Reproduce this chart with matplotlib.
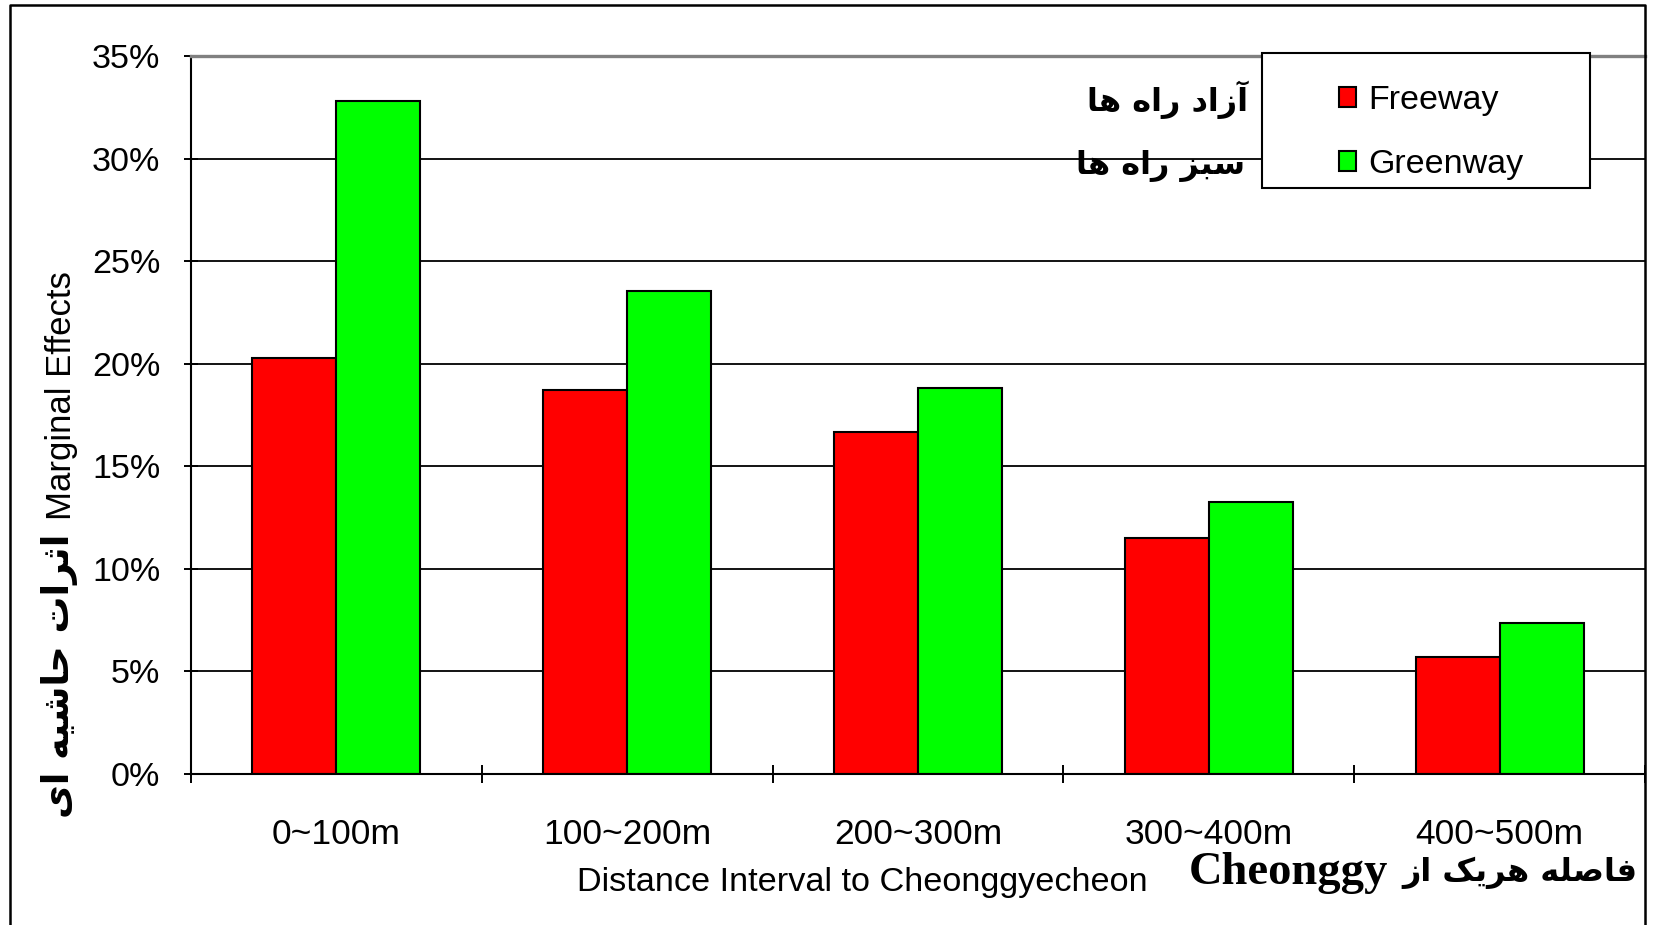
import matplotlib
matplotlib.use("Agg")
import matplotlib.pyplot as plt
from matplotlib.lines import Line2D
from matplotlib.patches import Rectangle
import numpy as np

# ---------------- data ----------------
categories = ["0~100m", "100~200m", "200~300m", "300~400m", "400~500m"]
freeway = [20.3, 18.7, 16.65, 11.5, 5.7]
greenway = [32.8, 23.55, 18.8, 13.25, 7.35]
series_names = ["Freeway", "Greenway"]
yticks = [0, 5, 10, 15, 20, 25, 30, 35]
ytick_labels = ["0%", "5%", "10%", "15%", "20%", "25%", "30%", "35%"]
xlabel = "Distance Interval to Cheonggyecheon"
ylabel = "Marginal Effects"
fa_ylabel = "اثرات حاشیه ای"
fa_legend = ["آزاد راه ها", "سبز راه ها"]
fa_xlabel = "فاصله هریک از"
fa_xlabel_latin = "Cheonggy"

# ---------------- simple Persian shaping ----------------
JOIN_R = set("اآدذرزژو")
FORMS = {
    "ا": (0xFE8D, 0xFE8E, None, None),
    "آ": (0xFE81, 0xFE82, None, None),
    "د": (0xFEA9, 0xFEAA, None, None),
    "ر": (0xFEAD, 0xFEAE, None, None),
    "ز": (0xFEAF, 0xFEB0, None, None),
    "ب": (0xFE8F, 0xFE90, 0xFE91, 0xFE92),
    "ت": (0xFE95, 0xFE96, 0xFE97, 0xFE98),
    "ث": (0xFE99, 0xFE9A, 0xFE9B, 0xFE9C),
    "ح": (0xFEA1, 0xFEA2, 0xFEA3, 0xFEA4),
    "س": (0xFEB1, 0xFEB2, 0xFEB3, 0xFEB4),
    "ش": (0xFEB5, 0xFEB6, 0xFEB7, 0xFEB8),
    "ص": (0xFEB9, 0xFEBA, 0xFEBB, 0xFEBC),
    "ف": (0xFED1, 0xFED2, 0xFED3, 0xFED4),
    "ل": (0xFEDD, 0xFEDE, 0xFEDF, 0xFEE0),
    "ه": (0xFEE9, 0xFEEA, 0xFEEB, 0xFEEC),
    "ی": (0xFBFC, 0xFBFD, 0xFBFE, 0xFBFF),
    "ک": (0xFB8E, 0xFB8F, 0xFB90, 0xFB91),
}
JOIN_D = set(c for c, f in FORMS.items() if f[2] is not None)


def shape(s):
    out = []
    for i, c in enumerate(s):
        if c not in FORMS:
            out.append(c)
            continue
        prev = s[i - 1] if i > 0 else ""
        nxt = s[i + 1] if i + 1 < len(s) else ""
        jp = prev in JOIN_D
        jn = (c in JOIN_D) and (nxt in JOIN_D or nxt in JOIN_R)
        iso, fin, ini, med = FORMS[c]
        if jp and jn:
            cp = med
        elif jp:
            cp = fin
        elif jn:
            cp = ini
        else:
            cp = iso
        out.append(chr(cp))
    return "".join(reversed(out))


# ---------------- figure ----------------
W, H, DPI = 1654, 925, 100
fig = plt.figure(figsize=(W / DPI, H / DPI), dpi=DPI)
plt.rcParams["font.family"] = ["Liberation Sans", "DejaVu Sans"]

ax = fig.add_axes([191 / W, 1 - 774 / H, (1645 - 191) / W, (774 - 56) / H])

x = np.arange(len(categories))
bw = 0.289
b1 = ax.bar(x - bw / 2, freeway, bw, color="#FF0000", edgecolor="black", linewidth=1.5,
            label=series_names[0], zorder=3)
b2 = ax.bar(x + bw / 2, greenway, bw, color="#00FF00", edgecolor="black", linewidth=1.5,
            label=series_names[1], zorder=3)

ax.set_xlim(-0.5, len(categories) - 0.5)
ax.set_ylim(0, 35)
ax.set_yticks(yticks)
ax.set_yticklabels(ytick_labels)
ax.set_xticks(x)
ax.set_xticklabels(categories)
ax.set_xticks(np.arange(-0.5, len(categories), 1.0), minor=True)

ax.tick_params(axis="y", direction="inout", length=10, width=1.4, pad=17,
               labelsize=24.5, colors="black")
ax.tick_params(axis="x", which="major", length=0, pad=32, labelsize=25.5)
ax.tick_params(axis="x", which="minor", direction="inout", length=13, width=1.4)

for v in yticks[1:-1]:
    ax.axhline(v, color="black", linewidth=1.3, zorder=1)

ax.spines["top"].set_color("#808080")
ax.spines["top"].set_linewidth(2.4)
ax.spines["right"].set_visible(False)
ax.spines["left"].set_linewidth(1.5)
ax.spines["bottom"].set_linewidth(1.5)
ax.spines["bottom"].set_zorder(4)

# axis titles
fig.text(862 / W, 1 - 882 / H, xlabel, ha="center", va="center", fontsize=24.7)
fig.text(62 / W, 1 - 396 / H, ylabel, ha="center", va="center", rotation=90, fontsize=25)

# Persian annotations
fig.text(59 / W, 1 - 676 / H, shape(fa_ylabel), ha="center", va="center", rotation=90,
         fontsize=26.5, fontweight="bold", family=["DejaVu Sans"])
fig.text(1248 / W, 1 - 100 / H, shape(fa_legend[0]), ha="right", va="center",
         fontsize=23, fontweight="bold", family=["DejaVu Sans"])
fig.text(1245 / W, 1 - 166 / H, shape(fa_legend[1]), ha="right", va="center",
         fontsize=23, fontweight="bold", family=["DejaVu Sans"])
t_fa = fig.text(1637 / W, 1 - 873 / H, shape(fa_xlabel), ha="right", va="center",
                fontsize=23, fontweight="bold", family=["DejaVu Sans"])
fig.canvas.draw()
bb = t_fa.get_window_extent()
fig.text((bb.x0 - 14) / W, 1 - 873 / H, fa_xlabel_latin, ha="right", va="center",
         fontsize=33.5, fontweight="bold", family=["Liberation Serif"])

# legend
fig.patches.append(Rectangle((1262 / W, 1 - 188 / H), (1590 - 1262) / W, (188 - 53) / H,
                             transform=fig.transFigure, fill=True, facecolor="white",
                             edgecolor="black", linewidth=1.5, zorder=5))
leg = fig.legend(handles=[b1, b2], labels=series_names, loc="upper left",
                 bbox_to_anchor=(1339 / W, 1 - 85 / H), bbox_transform=fig.transFigure,
                 frameon=False, fontsize=24.5, handlelength=0.5, handleheight=0.5,
                 handletextpad=0.35, labelspacing=0.97, borderpad=0, borderaxespad=0)
leg.set_zorder(6)

# figure border (left, top, right)
fig.lines.append(Line2D([10 / W, 10 / W, 1645 / W, 1645 / W], [0, 1 - 5 / H, 1 - 5 / H, 0],
                        transform=fig.transFigure, color="black", linewidth=1.8))

fig.savefig("out.png", dpi=DPI)
